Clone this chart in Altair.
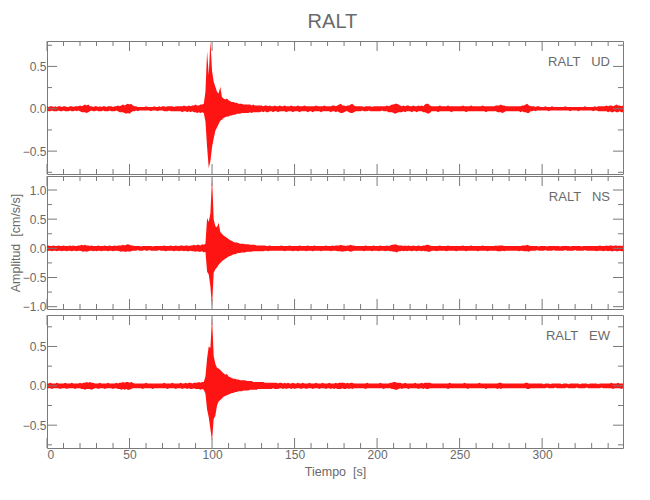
import altair as alt
import pandas as pd

# ---------------- text ----------------
TITLE = "RALT"
STATION = "RALT"
COMPONENTS = ["UD", "NS", "EW"]
X_TITLE = "Tiempo\u00a0\u00a0[s]"
Y_TITLE = "Amplitud\u00a0\u00a0[cm/s/s]"

# ---------------- axes values ----------------
X_DOMAIN = [0, 349]
X_LABELS = [0, 50, 100, 150, 200, 250, 300]
X_MINOR = [10, 20, 30, 40, 60, 70, 80, 90, 110, 120, 130, 140, 160, 170, 180, 190,
           210, 220, 230, 240, 260, 270, 280, 290, 310, 320, 330, 340]

Y_DOMAINS = {"UD": [-0.77, 0.80], "NS": [-1.04, 1.24], "EW": [-0.79, 0.90]}
Y_LABELS = {"UD": [-0.5, 0.0, 0.5], "NS": [-1.0, -0.5, 0.0, 0.5, 1.0], "EW": [-0.5, 0.0, 0.5]}
Y_MINOR = {"UD": [-0.75, -0.25, 0.25, 0.75], "NS": [-0.75, -0.25, 0.25, 0.75],
           "EW": [-0.75, -0.25, 0.25, 0.75]}

# ---------------- data: per-second max / min amplitude (units of 0.01 cm/s/s) ----------------
T = list(range(0, 350))

UD_MAX = [
    3, 2, 3, 3, 2, 3, 2, 3, 3, 2,
    3, 3, 2, 2, 3, 3, 2, 3, 3, 3,
    4, 3, 4, 5, 4, 5, 3, 3, 2, 3,
    3, 2, 3, 2, 3, 3, 2, 3, 3, 3,
    2, 3, 3, 4, 3, 4, 5, 4, 5, 6,
    5, 6, 4, 3, 3, 2, 2, 2, 2, 2,
    3, 2, 2, 2, 2, 3, 2, 2, 3, 2,
    3, 3, 2, 3, 3, 3, 3, 2, 3, 3,
    3, 3, 3, 4, 3, 3, 4, 3, 4, 4,
    5, 4, 4, 5, 5, 6, 20, 68, 40, 80,
    45, 32, 26, 20, 18, 26, 14, 12, 11, 12,
    10, 9, 8, 8, 7, 7, 6, 6, 6, 5,
    5, 5, 5, 5, 4, 5, 4, 4, 4, 4,
    4, 3, 4, 4, 3, 4, 3, 3, 4, 3,
    3, 4, 3, 3, 4, 3, 3, 3, 4, 3,
    3, 3, 4, 3, 3, 3, 4, 3, 3, 3,
    3, 3, 3, 4, 3, 3, 3, 3, 4, 3,
    3, 3, 3, 4, 4, 3, 4, 5, 6, 4,
    4, 3, 4, 4, 5, 6, 4, 3, 3, 3,
    3, 3, 2, 3, 3, 3, 3, 2, 3, 3,
    3, 3, 3, 3, 3, 3, 4, 3, 4, 5,
    5, 6, 6, 5, 4, 3, 4, 3, 4, 4,
    3, 3, 4, 3, 3, 4, 3, 4, 3, 5,
    6, 6, 4, 3, 3, 3, 3, 3, 4, 3,
    3, 3, 3, 4, 3, 3, 3, 3, 3, 3,
    3, 3, 4, 3, 3, 3, 3, 4, 3, 3,
    3, 3, 3, 3, 4, 3, 3, 3, 3, 3,
    3, 3, 4, 4, 4, 5, 4, 4, 3, 3,
    3, 3, 3, 3, 3, 3, 3, 3, 4, 4,
    5, 6, 4, 3, 3, 3, 2, 3, 3, 2,
    2, 2, 3, 2, 2, 2, 3, 2, 2, 2,
    2, 2, 2, 2, 3, 2, 2, 2, 2, 2,
    2, 2, 2, 2, 2, 2, 3, 2, 2, 2,
    2, 2, 3, 2, 3, 3, 3, 3, 3, 4,
    3, 4, 4, 3, 4, 5, 4, 4, 3, 4,
]
UD_MIN = [
    2, 3, 3, 2, 3, 3, 3, 2, 3, 3,
    2, 3, 3, 3, 2, 3, 3, 2, 3, 2,
    3, 4, 4, 4, 5, 4, 3, 2, 3, 3,
    2, 3, 3, 3, 2, 3, 3, 3, 2, 3,
    3, 3, 2, 3, 4, 4, 4, 5, 6, 5,
    6, 4, 3, 3, 2, 3, 2, 2, 2, 2,
    2, 2, 2, 3, 2, 2, 2, 3, 2, 2,
    2, 3, 3, 3, 2, 3, 3, 3, 3, 3,
    3, 3, 4, 3, 3, 4, 3, 4, 3, 4,
    4, 5, 4, 5, 4, 5, 15, 45, 70, 62,
    45, 35, 26, 22, 18, 14, 13, 11, 10, 9,
    9, 8, 8, 7, 7, 6, 6, 6, 5, 5,
    5, 5, 5, 4, 5, 4, 4, 4, 4, 4,
    3, 4, 3, 4, 4, 3, 3, 4, 3, 3,
    4, 3, 3, 3, 3, 4, 3, 3, 3, 4,
    3, 3, 3, 4, 3, 3, 3, 3, 4, 3,
    3, 4, 3, 3, 3, 3, 4, 3, 3, 3,
    3, 3, 4, 3, 3, 4, 3, 4, 5, 5,
    4, 3, 3, 4, 5, 5, 4, 3, 3, 3,
    3, 2, 3, 3, 3, 2, 3, 3, 3, 3,
    3, 3, 3, 2, 3, 3, 3, 4, 4, 4,
    5, 6, 5, 4, 4, 4, 3, 4, 3, 3,
    3, 4, 3, 3, 4, 3, 3, 3, 4, 4,
    5, 6, 5, 3, 3, 3, 3, 4, 3, 3,
    3, 3, 3, 3, 3, 4, 3, 3, 3, 3,
    3, 3, 3, 3, 4, 3, 3, 3, 3, 3,
    3, 3, 3, 3, 3, 3, 4, 3, 3, 3,
    3, 3, 3, 4, 4, 4, 5, 4, 3, 3,
    3, 3, 3, 3, 3, 3, 3, 4, 3, 4,
    4, 5, 5, 3, 3, 2, 3, 2, 2, 2,
    2, 2, 2, 2, 3, 2, 2, 2, 2, 2,
    2, 2, 2, 2, 2, 2, 2, 3, 2, 2,
    2, 2, 3, 2, 2, 2, 2, 2, 2, 2,
    2, 3, 2, 2, 3, 3, 3, 3, 3, 3,
    4, 3, 4, 4, 3, 4, 4, 3, 4, 4,
]
NS_MAX = [
    4, 5, 4, 4, 5, 4, 4, 5, 4, 4,
    5, 4, 4, 4, 5, 4, 5, 4, 4, 5,
    5, 6, 5, 6, 5, 5, 4, 5, 4, 4,
    4, 5, 4, 4, 4, 5, 4, 4, 5, 4,
    4, 5, 4, 5, 5, 5, 6, 5, 6, 7,
    6, 5, 5, 4, 4, 4, 4, 3, 4, 4,
    4, 4, 4, 4, 3, 4, 4, 4, 4, 4,
    4, 5, 4, 4, 4, 5, 4, 4, 5, 4,
    4, 5, 5, 4, 5, 5, 4, 5, 5, 6,
    5, 6, 6, 5, 7, 6, 8, 52, 45, 60,
    121, 50, 38, 36, 44, 28, 25, 22, 20, 18,
    16, 14, 13, 11, 10, 10, 9, 8, 8, 8,
    7, 7, 7, 6, 6, 6, 6, 5, 5, 5,
    5, 5, 5, 4, 4, 5, 4, 4, 4, 4,
    4, 4, 5, 4, 4, 4, 4, 5, 4, 4,
    4, 4, 4, 5, 4, 4, 4, 4, 5, 4,
    4, 4, 5, 4, 4, 4, 4, 4, 4, 5,
    4, 4, 4, 5, 4, 5, 5, 5, 6, 5,
    5, 4, 5, 5, 6, 5, 5, 4, 4, 4,
    4, 4, 4, 5, 4, 4, 4, 4, 5, 4,
    4, 4, 5, 4, 4, 4, 5, 4, 5, 6,
    6, 7, 6, 5, 5, 5, 4, 5, 4, 5,
    4, 4, 5, 4, 4, 5, 4, 4, 5, 5,
    6, 6, 5, 4, 4, 4, 4, 4, 5, 4,
    4, 4, 4, 5, 4, 4, 4, 4, 4, 4,
    4, 4, 5, 4, 4, 4, 4, 5, 4, 4,
    4, 4, 4, 4, 5, 4, 4, 4, 4, 4,
    4, 4, 5, 4, 5, 5, 5, 4, 4, 4,
    4, 4, 4, 4, 4, 4, 4, 4, 5, 5,
    5, 6, 5, 4, 4, 4, 4, 4, 3, 4,
    4, 4, 4, 3, 4, 4, 4, 4, 4, 4,
    4, 3, 4, 4, 4, 4, 4, 3, 4, 4,
    4, 4, 4, 4, 3, 4, 4, 4, 4, 4,
    4, 4, 4, 4, 4, 5, 4, 4, 4, 5,
    4, 5, 5, 4, 5, 5, 4, 5, 4, 5,
]
NS_MIN = [
    5, 4, 4, 5, 4, 4, 5, 4, 4, 5,
    4, 4, 5, 4, 4, 5, 4, 4, 5, 4,
    4, 5, 6, 5, 6, 5, 4, 4, 5, 4,
    5, 4, 4, 5, 4, 4, 4, 5, 4, 4,
    5, 4, 4, 4, 5, 6, 5, 6, 6, 5,
    6, 5, 4, 4, 4, 3, 4, 4, 4, 3,
    4, 4, 3, 4, 4, 4, 4, 4, 3, 4,
    4, 4, 5, 4, 4, 4, 4, 5, 4, 4,
    5, 4, 4, 5, 4, 5, 5, 4, 5, 5,
    6, 5, 6, 6, 5, 7, 6, 40, 45, 65,
    100, 42, 36, 33, 28, 25, 22, 20, 18, 16,
    14, 13, 12, 10, 10, 9, 8, 8, 7, 7,
    7, 6, 6, 6, 6, 5, 5, 5, 5, 5,
    5, 5, 4, 4, 5, 4, 4, 4, 4, 4,
    4, 4, 4, 4, 5, 4, 4, 4, 4, 5,
    4, 4, 5, 4, 4, 4, 4, 5, 4, 4,
    4, 5, 4, 4, 4, 4, 5, 4, 4, 4,
    4, 4, 5, 4, 4, 4, 5, 5, 5, 6,
    5, 5, 4, 5, 6, 5, 4, 4, 4, 4,
    4, 4, 5, 4, 4, 4, 4, 5, 4, 4,
    4, 5, 4, 4, 4, 5, 4, 4, 5, 5,
    6, 6, 7, 5, 5, 4, 5, 4, 5, 4,
    4, 5, 4, 4, 5, 4, 4, 5, 4, 5,
    5, 6, 6, 4, 4, 4, 5, 4, 4, 4,
    4, 4, 5, 4, 4, 4, 4, 4, 5, 4,
    4, 4, 4, 4, 5, 4, 4, 4, 4, 4,
    4, 5, 4, 4, 4, 4, 4, 5, 4, 4,
    4, 4, 4, 5, 5, 5, 4, 5, 4, 4,
    4, 4, 4, 4, 4, 4, 5, 4, 4, 5,
    5, 5, 6, 4, 4, 4, 4, 3, 4, 4,
    4, 4, 3, 4, 4, 4, 4, 3, 4, 4,
    4, 4, 4, 4, 3, 4, 4, 4, 4, 4,
    3, 4, 4, 4, 4, 4, 3, 4, 4, 4,
    4, 4, 4, 5, 4, 4, 4, 5, 4, 4,
    5, 4, 5, 5, 4, 5, 5, 4, 5, 5,
]
EW_MAX = [
    3, 3, 4, 3, 3, 3, 4, 3, 3, 3,
    3, 4, 3, 3, 3, 4, 3, 3, 3, 3,
    4, 3, 4, 4, 5, 4, 5, 4, 4, 3,
    3, 3, 4, 3, 3, 3, 3, 4, 3, 3,
    3, 3, 4, 3, 4, 4, 5, 4, 5, 5,
    4, 5, 4, 3, 3, 3, 3, 3, 3, 3,
    4, 3, 3, 3, 3, 3, 3, 3, 3, 3,
    3, 4, 3, 3, 3, 3, 4, 3, 3, 3,
    3, 4, 3, 3, 4, 3, 4, 4, 3, 4,
    4, 4, 5, 4, 5, 5, 12, 35, 50, 48,
    87, 38, 28, 23, 22, 20, 18, 16, 14, 15,
    12, 11, 10, 9, 9, 8, 8, 7, 7, 7,
    7, 6, 6, 6, 6, 5, 5, 5, 5, 5,
    5, 5, 4, 4, 4, 4, 4, 4, 4, 4,
    3, 4, 4, 3, 4, 3, 4, 3, 3, 4,
    3, 3, 4, 3, 3, 4, 3, 3, 3, 4,
    3, 3, 3, 4, 3, 3, 3, 4, 3, 3,
    3, 4, 3, 3, 3, 4, 3, 4, 4, 4,
    4, 3, 4, 3, 4, 4, 3, 3, 3, 3,
    3, 3, 3, 3, 4, 3, 3, 3, 3, 3,
    3, 3, 4, 3, 3, 3, 3, 3, 4, 4,
    5, 5, 4, 4, 4, 3, 3, 4, 3, 3,
    3, 3, 3, 4, 3, 3, 3, 4, 3, 4,
    4, 4, 4, 3, 3, 3, 3, 3, 3, 3,
    3, 3, 3, 3, 4, 3, 3, 3, 3, 3,
    3, 3, 3, 4, 3, 3, 3, 3, 3, 3,
    3, 3, 4, 3, 3, 3, 3, 3, 3, 3,
    3, 3, 3, 3, 4, 4, 3, 3, 3, 3,
    3, 3, 3, 3, 3, 3, 3, 3, 3, 3,
    4, 4, 3, 3, 3, 3, 3, 3, 3, 3,
    3, 2, 3, 3, 3, 2, 3, 3, 3, 3,
    3, 3, 2, 3, 3, 3, 2, 3, 3, 3,
    3, 3, 3, 2, 3, 3, 3, 3, 2, 3,
    3, 3, 3, 3, 2, 3, 3, 3, 3, 3,
    3, 3, 4, 3, 3, 3, 4, 3, 3, 3,
]
EW_MIN = [
    3, 3, 3, 4, 3, 3, 3, 3, 4, 3,
    3, 3, 4, 3, 3, 3, 3, 4, 3, 3,
    3, 4, 4, 5, 4, 4, 4, 5, 4, 3,
    3, 4, 3, 3, 3, 4, 3, 3, 3, 3,
    4, 3, 3, 4, 4, 5, 4, 5, 4, 5,
    5, 4, 3, 3, 3, 3, 3, 3, 4, 3,
    3, 3, 3, 3, 4, 3, 3, 3, 3, 3,
    3, 3, 3, 4, 3, 3, 3, 3, 4, 3,
    3, 3, 4, 3, 3, 4, 3, 4, 4, 3,
    4, 4, 4, 5, 4, 5, 10, 30, 40, 55,
    70, 42, 38, 25, 20, 18, 16, 14, 13, 12,
    11, 10, 9, 9, 8, 8, 7, 7, 7, 6,
    6, 6, 6, 5, 5, 5, 5, 5, 4, 4,
    4, 4, 4, 4, 4, 4, 4, 3, 4, 4,
    4, 3, 3, 4, 3, 4, 3, 3, 4, 3,
    4, 3, 3, 3, 4, 3, 3, 4, 3, 3,
    3, 4, 3, 3, 3, 4, 3, 3, 3, 4,
    3, 3, 4, 3, 4, 3, 4, 4, 4, 3,
    4, 4, 3, 4, 3, 4, 3, 3, 3, 3,
    3, 3, 3, 4, 3, 3, 3, 3, 3, 3,
    3, 3, 3, 3, 4, 3, 3, 3, 3, 4,
    4, 5, 5, 4, 3, 4, 3, 3, 3, 4,
    3, 3, 3, 3, 3, 4, 3, 3, 4, 3,
    4, 4, 3, 3, 3, 3, 3, 3, 3, 3,
    3, 3, 3, 4, 3, 3, 3, 3, 3, 3,
    3, 3, 3, 3, 3, 4, 3, 3, 3, 3,
    3, 3, 3, 3, 3, 3, 4, 3, 3, 3,
    3, 3, 3, 4, 3, 4, 3, 3, 3, 3,
    3, 3, 3, 3, 3, 3, 3, 3, 3, 3,
    3, 4, 4, 3, 3, 3, 3, 3, 3, 3,
    3, 3, 3, 2, 3, 3, 3, 3, 2, 3,
    3, 3, 3, 3, 3, 2, 3, 3, 3, 3,
    3, 2, 3, 3, 3, 3, 3, 2, 3, 3,
    3, 3, 3, 3, 3, 3, 2, 3, 3, 3,
    3, 3, 3, 4, 3, 3, 3, 3, 4, 3,
]

SERIES = {"UD": (UD_MAX, UD_MIN), "NS": (NS_MAX, NS_MIN), "EW": (EW_MAX, EW_MIN)}

# ---------------- style ----------------
W, H = 576, 133
RED = "#ff0000"
AX = "#7a7a7a"
TXT = "#6a6a6a"
FONT = "Liberation Sans Narrow, Liberation Sans, Arial, sans-serif"
MAJ, MINL = 10, 5


def panel(comp, bottom, ytitle):
    hi, lo = SERIES[comp]
    n = min(len(T), len(hi), len(lo))
    df = pd.DataFrame({"t": T[:n],
                       "hi": [v / 100 for v in hi[:n]],
                       "lo": [-v / 100 for v in lo[:n]]})
    xs = alt.Scale(domain=X_DOMAIN, nice=False, zero=False)
    ys = alt.Scale(domain=Y_DOMAINS[comp], nice=False, zero=False)

    def xaxis():
        if bottom:
            return alt.Axis(values=X_LABELS, format="d", ticks=False, domain=False, grid=False,
                            labelPadding=1, title=X_TITLE, titlePadding=5)
        return None

    def yaxis():
        if ytitle:
            return alt.Axis(values=Y_LABELS[comp], format=".1f", ticks=False, domain=False,
                            grid=False, labelPadding=1, title=ytitle, titlePadding=0)
        return alt.Axis(values=Y_LABELS[comp], format=".1f", ticks=False, domain=False,
                        grid=False, labelPadding=1, title="")

    wave = alt.Chart(df).mark_area(color=RED, opacity=0.92, interpolate="linear").encode(
        x=alt.X("t:Q", scale=xs, axis=xaxis()),
        y=alt.Y("hi:Q", scale=ys, axis=yaxis()),
        y2="lo:Q",
    )

    def xt(vals, length, top):
        d = pd.DataFrame({"t": vals})
        return alt.Chart(d).mark_rule(color=AX, strokeWidth=1).encode(
            x=alt.X("t:Q", scale=xs, axis=xaxis()),
            y=alt.value(0 if top else H),
            y2=alt.value(length if top else H - length),
        )

    def yt(vals, length, right):
        d = pd.DataFrame({"hi": vals})
        return alt.Chart(d).mark_rule(color=AX, strokeWidth=1).encode(
            y=alt.Y("hi:Q", scale=ys, axis=yaxis()),
            x=alt.value(W if right else 0),
            x2=alt.value(W - length if right else length),
        )

    ticks = [
        xt(X_LABELS, MAJ, False), xt(X_MINOR, MINL, False),
        xt(X_LABELS, MAJ, True), xt(X_MINOR, MINL, True),
        yt(Y_LABELS[comp], MAJ, False), yt(Y_MINOR[comp], MINL, False),
        yt(Y_LABELS[comp], MAJ, True), yt(Y_MINOR[comp], MINL, True),
    ]

    lab = alt.Chart(pd.DataFrame({"s": [STATION + "\u00a0\u00a0\u00a0" + comp]})).mark_text(
        align="right", baseline="middle", font=FONT, fontSize=13, color=TXT
    ).encode(text="s:N", x=alt.value(W - 13), y=alt.value(21))

    return alt.layer(wave, *ticks, lab).properties(width=W, height=H)


p1 = panel("UD", False, None)
p2 = panel("NS", False, Y_TITLE)
p3 = panel("EW", True, None)

chart = alt.vconcat(p1, p2, p3, spacing=0).properties(
    title=alt.TitleParams(TITLE, fontSize=20, font=FONT, color=TXT, fontWeight="normal",
                          anchor="middle", offset=8, dx=16),
    padding={"left": 0, "top": 4, "right": 5, "bottom": 5},
).configure_view(stroke=AX, strokeWidth=1).configure_axis(
    labelFont=FONT, labelFontSize=12, labelColor=TXT,
    titleFont=FONT, titleFontSize=12.5, titleColor=TXT, titleFontWeight="normal",
)

chart.save("out.html", embed_options={"renderer": "svg", "actions": False})
